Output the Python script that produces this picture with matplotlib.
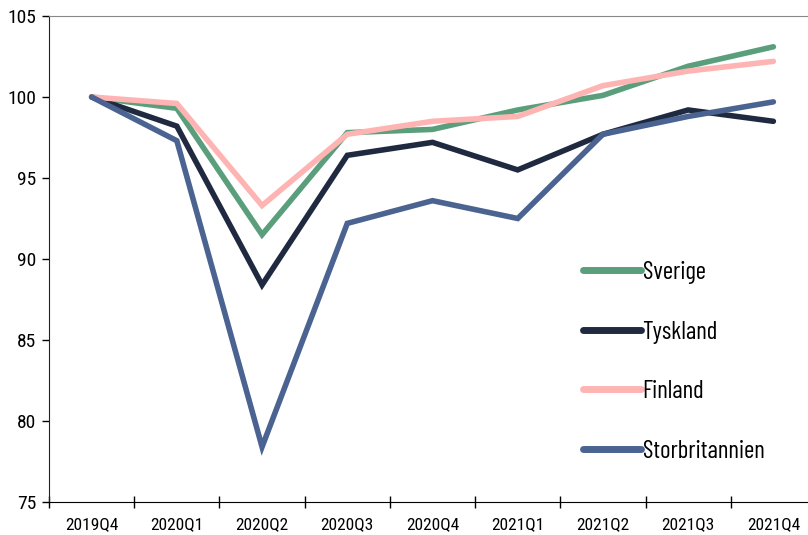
import matplotlib
matplotlib.use("Agg")
import matplotlib.pyplot as plt
from matplotlib.ticker import FixedLocator
import numpy as np

plt.rcParams['font.family'] = ['Roboto Condensed', 'Barlow Semi Condensed', 'DejaVu Sans']

quarters = ["2019Q4", "2020Q1", "2020Q2", "2020Q3", "2020Q4",
            "2021Q1", "2021Q2", "2021Q3", "2021Q4"]

sverige = [100.0, 99.3, 91.5, 97.8, 98.0, 99.2, 100.1, 101.9, 103.1]
tyskland = [100.0, 98.2, 88.4, 96.4, 97.2, 95.5, 97.7, 99.2, 98.5]
finland = [100.0, 99.6, 93.3, 97.7, 98.5, 98.8, 100.7, 101.6, 102.2]
storbritannien = [100.0, 97.3, 78.4, 92.2, 93.6, 92.5, 97.7, 98.8, 99.7]

series = [
    ("Sverige", sverige, "#5a9e7c"),
    ("Tyskland", tyskland, "#1f2a40"),
    ("Finland", finland, "#ffb4b4"),
    ("Storbritannien", storbritannien, "#4a6391"),
]

fig = plt.figure(figsize=(8.08, 5.35), dpi=100)
ax = fig.add_axes([49/808, 33/535, 759/808, 486/535])

x = np.arange(len(quarters))
for name, vals, col in series:
    ax.plot(x, vals, color=col, lw=4, label=name, solid_capstyle="round",
            solid_joinstyle="miter")

ax.set_ylim(75, 105)
ax.set_yticks([75, 80, 85, 90, 95, 100, 105])
ax.set_xlim(-0.5, 8.5 - 8/85.3)
ax.set_xticks(x)
ax.set_xticklabels(quarters)
ax.xaxis.set_minor_locator(FixedLocator(np.arange(-0.5, 9, 1)))
ax.tick_params(axis="x", which="major", length=0, pad=11, labelsize=12.5)
ax.tick_params(axis="x", which="minor", length=9, direction="inout", width=1)
ax.tick_params(axis="y", length=5, width=1, labelsize=14, pad=4)

ax.spines["right"].set_visible(False)
ax.spines["top"].set_color("#888888")
ax.spines["left"].set_color("#222222")
ax.spines["bottom"].set_color("#000000")

# legend sits inside the plot, lower right
leg = ax.legend(loc="upper left", bbox_to_anchor=(0.674, 0.542), frameon=False,
                prop={"family": ["Barlow Condensed", "Roboto Condensed"], "size": 18},
                handlelength=2.3, handletextpad=0.08, labelspacing=1.46)
for h in leg.get_lines():
    h.set_linewidth(5)

fig.savefig("out.png", dpi=100)
